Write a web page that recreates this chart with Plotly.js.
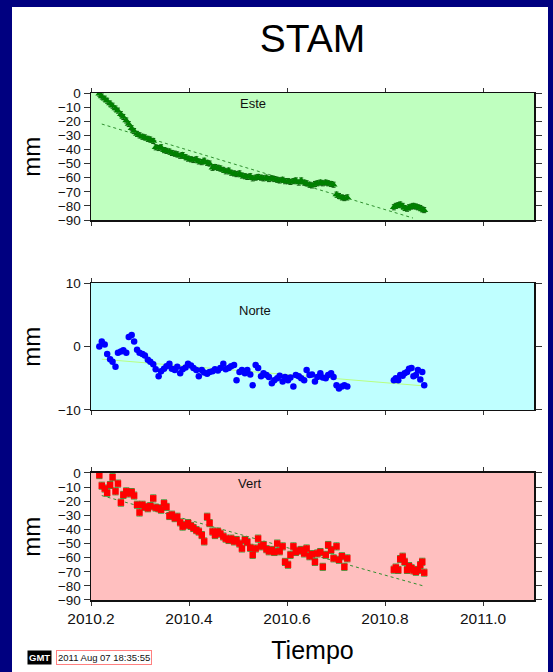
<!DOCTYPE html>
<html>
<head>
<meta charset="utf-8">
<script src="https://cdn.plot.ly/plotly-3.0.1.min.js"></script>
<style>
html,body{margin:0;padding:0;background:#000080;width:553px;height:672px;overflow:hidden;}
#chart{position:absolute;left:12px;top:7px;width:536px;height:665px;background:#fff;}
</style>
</head>
<body>
<div id="chart"></div>
<script>
// Epochs (decimal years) of the daily GPS solutions
const epochs = [
2010.217,2010.222,2010.228,2010.233,2010.239,2010.244,2010.250,2010.255,2010.261,2010.266,
2010.272,2010.277,2010.283,2010.288,2010.294,2010.299,2010.305,2010.310,2010.316,2010.321,
2010.327,2010.332,2010.338,2010.343,2010.349,2010.354,2010.360,2010.365,2010.371,2010.376,
2010.382,2010.387,2010.393,2010.398,2010.404,2010.409,2010.415,2010.420,2010.426,2010.431,
2010.437,2010.442,2010.448,2010.453,2010.459,2010.464,2010.470,2010.475,2010.481,2010.486,
2010.492,2010.497,2010.503,2010.508,2010.514,2010.519,2010.525,2010.530,2010.536,2010.541,
2010.547,2010.552,2010.558,2010.563,2010.569,2010.574,2010.580,2010.585,2010.591,2010.596,
2010.602,2010.607,2010.613,2010.618,2010.624,2010.629,2010.635,2010.640,2010.646,2010.651,
2010.657,2010.662,2010.668,2010.673,2010.679,2010.684,2010.690,2010.695,2010.701,2010.706,
2010.712,2010.717,2010.723,
2010.818,2010.822,2010.827,2010.831,2010.836,2010.840,2010.845,2010.849,2010.854,2010.858,
2010.863,2010.867,2010.872,2010.876,2010.880
];
// East component (mm)
const esteMm = [
-0.5,-2.5,-4.0,-5.5,-7.5,-9.0,-11.0,-12.5,-15.0,-17.0,
-19.5,-22.0,-25.0,-27.0,-29.0,-30.0,-31.0,-31.5,-32.5,-33.0,
-34.0,-38.5,-39.0,-38.5,-40.5,-41.0,-41.5,-42.5,-43.0,-43.5,
-44.5,-44.0,-45.5,-46.5,-47.0,-47.5,-47.0,-48.5,-49.0,-48.0,
-49.5,-50.0,-53.0,-52.5,-53.0,-53.5,-54.5,-55.5,-55.0,-56.5,
-57.0,-57.5,-57.0,-58.5,-59.0,-59.5,-59.0,-60.5,-60.0,-59.5,
-60.0,-60.5,-60.0,-61.0,-60.5,-61.0,-61.5,-62.0,-61.5,-62.5,
-62.5,-63.0,-62.5,-62.0,-63.5,-62.0,-63.5,-64.0,-65.0,-65.5,
-64.5,-64.0,-63.5,-64.0,-63.5,-64.0,-64.5,-65.0,-72.0,-73.0,
-74.0,-74.5,-74.0,
-81.0,-80.0,-79.5,-79.0,-80.0,-81.5,-82.0,-81.0,-80.5,-80.0,
-80.5,-81.0,-81.5,-82.5,-83.0
];
// North component (mm)
const norteMm = [
0.0,0.8,0.3,-1.2,-2.0,-2.4,-3.2,-1.0,-0.8,-0.6,
-1.0,1.5,1.8,0.8,-0.5,-1.0,-1.2,-1.4,-2.1,-2.4,
-2.8,-3.6,-4.7,-3.9,-3.5,-3.1,-2.7,-3.5,-3.7,-3.2,
-4.2,-3.6,-3.3,-2.7,-3.0,-3.4,-3.7,-4.7,-3.7,-4.1,
-4.3,-4.0,-3.9,-3.6,-3.8,-3.4,-2.7,-3.6,-3.4,-3.1,
-2.9,-5.3,-4.0,-3.7,-4.2,-3.7,-4.4,-6.1,-2.9,-3.4,
-4.7,-4.2,-4.5,-4.8,-5.8,-5.3,-5.0,-4.6,-5.5,-4.8,
-5.3,-4.9,-6.3,-4.5,-4.7,-5.0,-5.3,-3.7,-4.5,-4.4,
-5.5,-4.8,-4.2,-4.9,-5.0,-4.5,-4.2,-4.8,-6.1,-6.6,
-6.3,-6.1,-6.3,
-5.3,-5.0,-5.3,-4.5,-4.6,-4.2,-4.0,-3.5,-3.4,-4.7,
-4.5,-3.7,-5.2,-4.0,-6.1
];
// Vertical component (mm)
const vertMm = [
-1.5,-9.0,-11.0,-14.0,-8.5,-3.0,-13.0,-7.5,-21.0,-15.5,
-13.0,-14.5,-13.5,-16.0,-22.5,-28.0,-22.5,-24.0,-25.0,-23.5,
-18.0,-24.5,-25.0,-26.0,-21.5,-24.0,-30.5,-29.5,-32.0,-31.0,
-35.0,-38.0,-37.0,-35.5,-37.5,-39.0,-40.5,-41.5,-44.0,-48.5,
-31.0,-35.5,-41.5,-44.0,-41.5,-43.0,-45.0,-46.5,-47.5,-46.5,
-48.5,-47.5,-50.0,-53.5,-47.5,-49.0,-53.0,-58.0,-53.5,-46.5,
-52.0,-51.0,-54.0,-55.5,-54.5,-56.0,-50.0,-55.5,-52.0,-63.0,
-65.0,-58.0,-52.0,-56.0,-55.0,-54.5,-57.0,-53.5,-59.0,-57.5,
-63.0,-57.0,-56.0,-66.5,-58.0,-51.0,-54.5,-60.5,-52.0,-61.5,
-59.0,-66.5,-60.5,
-68.5,-67.0,-68.7,-61.0,-59.3,-62.9,-68.7,-66.0,-67.5,-69.0,
-70.0,-68.7,-65.2,-62.9,-70.6
];
// Linear trend end points
const esteTrendT = [2010.222, 2010.857];
const esteTrendMm = [-22.0, -88.6];
const norteTrendT = [2010.222, 2010.878];
const norteTrendMm = [-2.0, -6.2];
const vertTrendT = [2010.222, 2010.878];
const vertTrendMm = [-16.0, -80.0];

const xTicks = [2010.2, 2010.4, 2010.6, 2010.8, 2011.0];
const xTickText = ['2010.2','2010.4','2010.6','2010.8','2011.0'];
const panelNames = ['Este','Norte','Vert'];

const FONT = 'Liberation Sans, Arial, Helvetica, sans-serif';

const traces = [
  {x: esteTrendT, y: esteTrendMm, xaxis:'x', yaxis:'y', mode:'lines',
   line:{color:'#2f8f2f', width:1, dash:'dot'}, hoverinfo:'skip'},
  {x: epochs, y: esteMm, xaxis:'x', yaxis:'y', mode:'markers',
   marker:{symbol:'triangle-up', size:7, color:'#008000'},
   error_y:{type:'constant', value:1.8, color:'#0a5a0a', thickness:1, width:2}},
  {x: norteTrendT, y: norteTrendMm, xaxis:'x2', yaxis:'y2', mode:'lines',
   line:{color:'#b8ff80', width:1}, hoverinfo:'skip'},
  {x: epochs, y: norteMm, xaxis:'x2', yaxis:'y2', mode:'markers',
   marker:{symbol:'circle', size:6.5, color:'#0000ff'}},
  {x: vertTrendT, y: vertTrendMm, xaxis:'x3', yaxis:'y3', mode:'lines',
   line:{color:'#2f8f2f', width:1, dash:'dot'}, hoverinfo:'skip'},
  {x: epochs, y: vertMm, xaxis:'x3', yaxis:'y3', mode:'markers',
   marker:{symbol:'square', size:6.5, color:'#ff0000'},
   error_y:{type:'constant', value:2.5, color:'#3c9a3c', thickness:1, width:3}}
];

function xAx(anchor, showLabels){
  return {
    range:[2010.2, 2011.104], anchor: anchor, domain:[0,1],
    tickmode:'array', tickvals:xTicks, ticktext:xTickText, showticklabels:showLabels,
    ticks:'outside', ticklen:4, tickwidth:1, tickcolor:'#333',
    showline:true, linecolor:'#111', linewidth:1.5, mirror:'ticks',
    showgrid:false, zeroline:false, ticklabelstandoff:0,
    tickfont:{family:FONT, size:15.5, color:'#111'}
  };
}
function yAx(anchor, domain, range, dtick){
  return {
    range: range, domain: domain, anchor: anchor, dtick: dtick, tick0: 0,
    ticks:'outside', ticklen:6, tickwidth:1, tickcolor:'#333',
    showline:true, linecolor:'#111', linewidth:1.5, mirror:'ticks',
    showgrid:false, zeroline:false,
    tickfont:{family:FONT, size:13.5, color:'#111'}
  };
}

const layout = {
  width:536, height:665, autosize:false,
  margin:{l:79, r:14, t:86, b:72},
  paper_bgcolor:'#ffffff', plot_bgcolor:'#bfffbf',
  showlegend:false,
  font:{family:FONT, color:'#000'},
  title:{text:'STAM', x:0.5, xref:'paper', xanchor:'center', y:0.953, yref:'container', yanchor:'middle',
         font:{family:FONT, size:39, color:'#000'}},
  xaxis: xAx('y', false),
  xaxis2: xAx('y2', false),
  xaxis3: Object.assign(xAx('y3', true), {title:{text:'Tiempo', font:{family:FONT, size:25, color:'#000'}, standoff:15}}),
  yaxis: yAx('x', [0.7495, 1], [-90, 0], 10),
  yaxis2: yAx('x2', [0.3748, 0.6252], [-10, 10], 10),
  yaxis3: yAx('x3', [0, 0.2505], [-90, 0], 10),
  shapes:[
    {type:'rect', xref:'x domain', yref:'y domain', x0:0, x1:1, y0:0, y1:1, fillcolor:'#bfffbf', line:{width:0}, layer:'below'},
    {type:'rect', xref:'x2 domain', yref:'y2 domain', x0:0, x1:1, y0:0, y1:1, fillcolor:'#bfffff', line:{width:0}, layer:'below'},
    {type:'rect', xref:'x3 domain', yref:'y3 domain', x0:0, x1:1, y0:0, y1:1, fillcolor:'#ffbfbf', line:{width:0}, layer:'below'}
  ],
  annotations:[
    {text:panelNames[0], xref:'x domain', yref:'y domain', x:0.365, y:0.92, xanchor:'center', yanchor:'middle', showarrow:false, font:{family:FONT, size:13, color:'#111'}},
    {text:panelNames[1], xref:'x2 domain', yref:'y2 domain', x:0.37, y:0.78, xanchor:'center', yanchor:'middle', showarrow:false, font:{family:FONT, size:13, color:'#111'}},
    {text:panelNames[2], xref:'x3 domain', yref:'y3 domain', x:0.36, y:0.92, xanchor:'center', yanchor:'middle', showarrow:false, font:{family:FONT, size:13, color:'#111'}},
    {text:'mm', xref:'paper', yref:'y domain', x:-0.135, y:0.5, textangle:-90, showarrow:false, xanchor:'center', yanchor:'middle', font:{family:FONT, size:24, color:'#000'}},
    {text:'mm', xref:'paper', yref:'y2 domain', x:-0.135, y:0.5, textangle:-90, showarrow:false, xanchor:'center', yanchor:'middle', font:{family:FONT, size:24, color:'#000'}},
    {text:'mm', xref:'paper', yref:'y3 domain', x:-0.135, y:0.5, textangle:-90, showarrow:false, xanchor:'center', yanchor:'middle', font:{family:FONT, size:24, color:'#000'}},
    {text:'<b>GMT</b>', xref:'paper', yref:'paper', x:-0.145, y:-0.114, xanchor:'left', yanchor:'middle', showarrow:false,
     bgcolor:'#000', borderpad:1, font:{family:FONT, size:9.5, color:'#fff'}},
    {text:'2011 Aug 07 18:35:55', xref:'paper', yref:'paper', x:-0.078, y:-0.114, xanchor:'left', yanchor:'middle', showarrow:false,
     bgcolor:'#fff', bordercolor:'#ff8080', borderwidth:1, borderpad:1, font:{family:FONT, size:9.5, color:'#111'}}
  ]
};

Plotly.newPlot('chart', traces, layout, {displayModeBar:false, staticPlot:true});
</script>
</body>
</html>
